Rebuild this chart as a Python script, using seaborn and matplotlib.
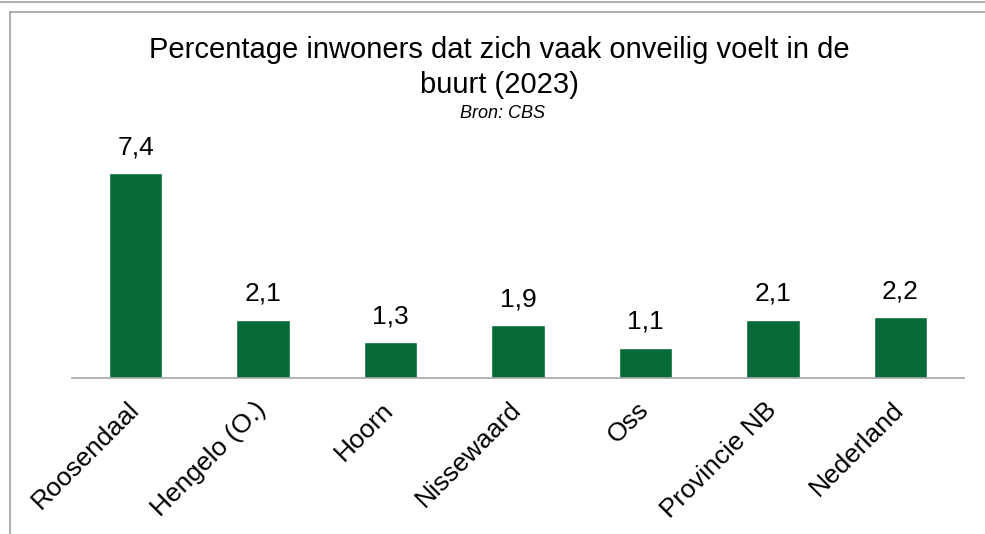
import matplotlib
matplotlib.use("Agg")
import matplotlib.pyplot as plt
from matplotlib.lines import Line2D
from matplotlib.transforms import ScaledTranslation
import seaborn as sns
import pandas as pd

# data
gebieden = ["Roosendaal", "Hengelo (O.)", "Hoorn", "Nissewaard", "Oss", "Provincie NB", "Nederland"]
percentages = [7.4, 2.1, 1.3, 1.9, 1.1, 2.1, 2.2]
labels = ["7,4", "2,1", "1,3", "1,9", "1,1", "2,1", "2,2"]

df = pd.DataFrame({"gebied": gebieden, "pct": percentages})

sns.set_style("white")
plt.rcParams["font.family"] = ["Liberation Sans", "DejaVu Sans"]
plt.rcParams["text.color"] = "black"
plt.rcParams["xtick.color"] = "black"

W, H = 985, 534
fig = plt.figure(figsize=(W / 100, H / 100), dpi=100)
ax = fig.add_axes([72 / W, 1 - 378 / H, (964 - 72) / W, (378 - 150) / H])

sns.barplot(data=df, x="gebied", y="pct", color="#066a38", saturation=1,
            width=0.42, ax=ax)
ax.set_ylim(0, 228 / 27.7)
ax.set_xlim(-0.5, len(gebieden) - 0.5)

for i, (v, lab) in enumerate(zip(percentages, labels)):
    ax.annotate(lab, (i, v), xytext=(0, 10), textcoords="offset points",
                ha="center", va="bottom", fontsize=19, color="black")

for s in ["top", "right", "left"]:
    ax.spines[s].set_visible(False)
ax.spines["bottom"].set_color("#a6a6a6")
ax.spines["bottom"].set_linewidth(1.2)
ax.set_yticks([])
ax.set_xlabel("")
ax.set_ylabel("")
ax.tick_params(axis="x", length=0, pad=14, labelcolor="black")
plt.setp(ax.get_xticklabels(), rotation=45, ha="right", va="top",
         rotation_mode="anchor", fontsize=19)
shift = ScaledTranslation(-9 / 100, 0, fig.dpi_scale_trans)
for t in ax.get_xticklabels():
    t.set_transform(t.get_transform() + shift)

fig.text(0.507, 1 - 50 / H, "Percentage inwoners dat zich vaak onveilig voelt in de",
         ha="center", va="center", fontsize=21)
fig.text(0.507, 1 - 85 / H, "buurt (2023)", ha="center", va="center", fontsize=21)
fig.text(0.51, 1 - 113 / H, "Bron: CBS", ha="center", va="center", fontsize=13,
         style="italic")

# frame
grey = "#a0a0a0"
fig.add_artist(Line2D([0, 1], [1 - 2 / H, 1 - 2 / H], color=grey, lw=1.2))
fig.add_artist(Line2D([10 / W, 1], [1 - 12 / H, 1 - 12 / H], color=grey, lw=1.2))
fig.add_artist(Line2D([10 / W, 10 / W], [0, 1 - 12 / H], color=grey, lw=1.2))

fig.savefig("out.png", dpi=100)
